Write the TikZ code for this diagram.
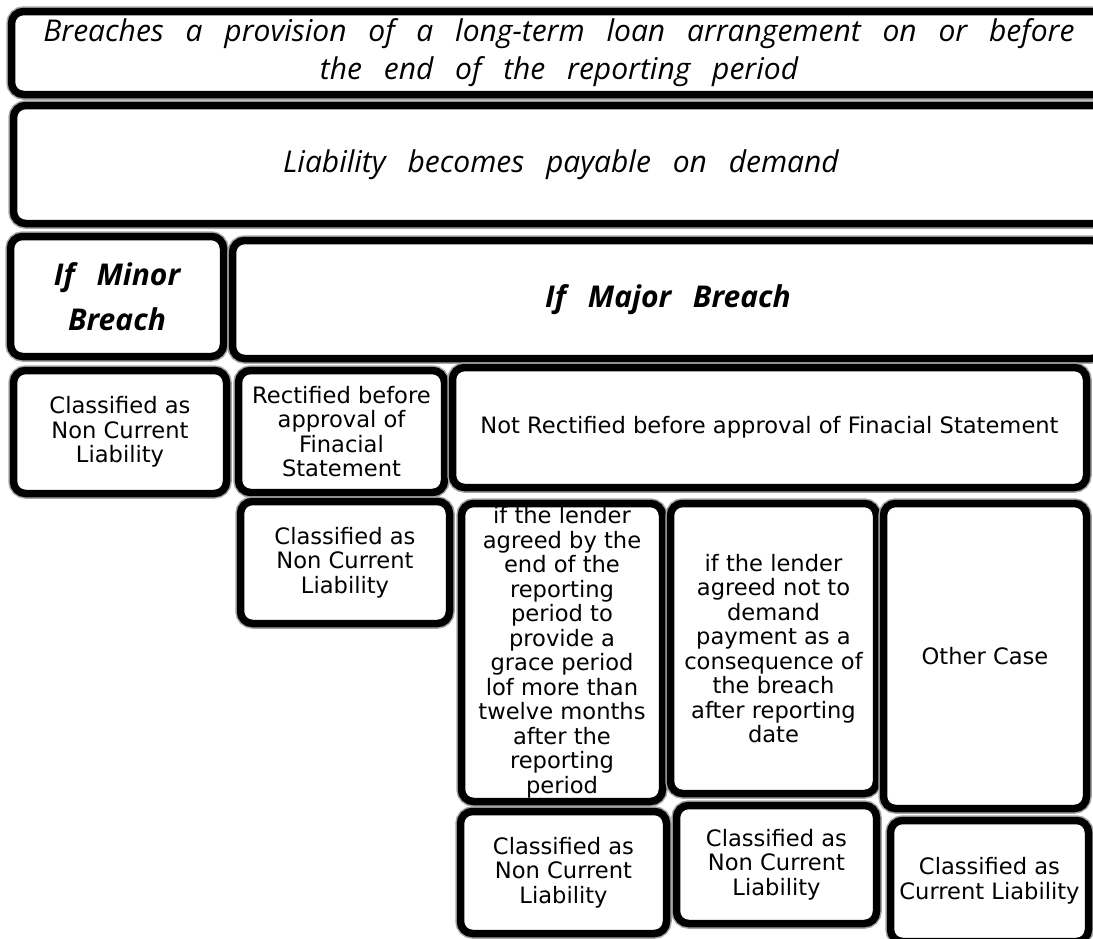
\documentclass[tikz,border=0pt]{standalone}
\usepackage{fontspec}
\setmainfont{DejaVu Sans}
\newfontfamily\handfont[WordSpace=2.8]{Open Sans}
\begin{document}
\begin{tikzpicture}[x=1pt,y=-1pt,
  box/.style={draw=black, line width=7.5pt, rounded corners=12pt, fill=white,
    inner sep=0pt, align=center, font=\fontsize{22.6}{24.5}\selectfont,
    preaction={draw=black!35, line width=10.5pt}},
  hand/.style={font=\handfont\itshape\fontsize{30}{38}\selectfont},
  handb/.style={font=\handfont\bfseries\itshape\fontsize{30}{45}\selectfont}]
\useasboundingbox (0,0) rectangle (1093,938);
\begin{scope}
\clip (0,0) rectangle (1093,938);
\node[box, hand, minimum width=1095pt, minimum height=83pt] (breach) at (559,53)
  {Breaches a provision of a long-term loan arrangement on or before\\the end of the reporting period};
\node[box, hand, minimum width=1095pt, minimum height=118pt] (demand) at (561,164.5)
  {Liability becomes payable on demand};
\node[box, handb, minimum width=213pt, minimum height=120pt] (minor) at (117,296.5)
  {If Minor\\Breach};
\node[box, handb, minimum width=871pt, minimum height=118pt] (major) at (668,299.5)
  {If Major Breach};
\node[box, minimum width=213pt, minimum height=123pt] (clsminor) at (120,432)
  {Classified as\\Non Current\\Liability};
\node[box, minimum width=206pt, minimum height=122pt] (rect) at (341.5,431.5)
  {Rectified before\\approval of\\Finacial\\Statement};
\node[box, minimum width=634pt, minimum height=120pt] (notrect) at (769.5,427.5)
  {Not Rectified before approval of Finacial Statement};
\node[box, minimum width=209pt, minimum height=122pt] (clsrect) at (345,562.5)
  {Classified as\\Non Current\\Liability};
\node[box, minimum width=201pt, minimum height=298pt] (grace) at (562,652.5)
  {if the lender\\agreed by the\\end of the\\reporting\\period to\\provide a\\grace period\\lof more than\\twelve months\\after the\\reporting\\period};
\node[box, minimum width=206pt, minimum height=290pt] (lender) at (773.5,648.5)
  {if the lender\\agreed not to\\demand\\payment as a\\consequence of\\the breach\\after reporting\\date};
\node[box, minimum width=203pt, minimum height=305pt] (other) at (985,656)
  {Other Case};
\node[box, minimum width=206pt, minimum height=122pt] (nclgrace) at (563.5,872.5)
  {Classified as\\Non Current\\Liability};
\node[box, minimum width=200pt, minimum height=118pt] (ncllender) at (776.5,864.5)
  {Classified as\\Non Current\\Liability};
\node[box, minimum width=198pt, minimum height=121pt] (current) at (989.5,881)
  {Classified as\\Current Liability};
\end{scope}
\end{tikzpicture}
\end{document}
